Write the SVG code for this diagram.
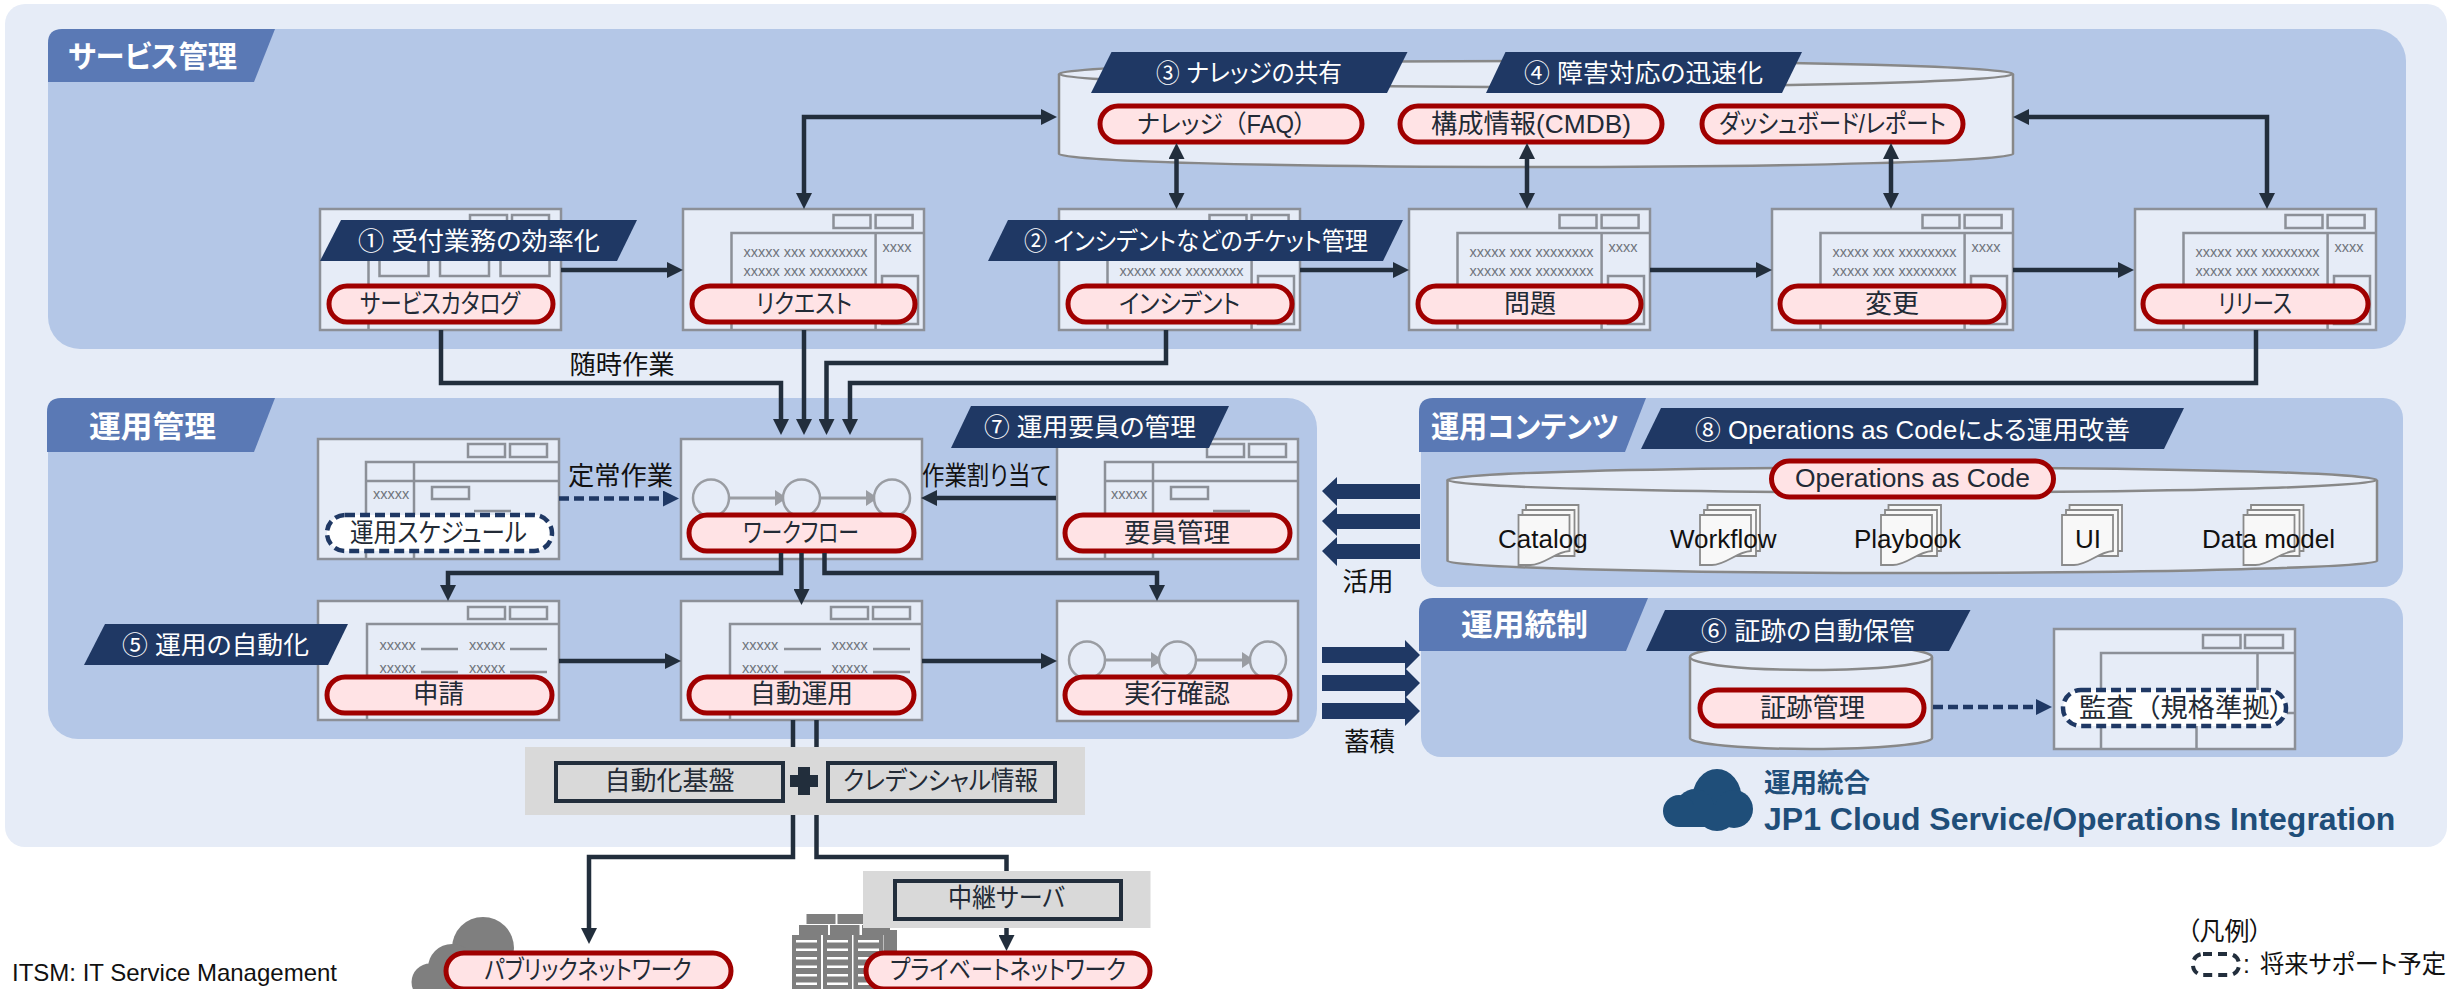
<svg xmlns="http://www.w3.org/2000/svg" width="2450" height="989" viewBox="0 0 2450 989">
<style>
text{font-family:"Liberation Sans","Noto Sans CJK JP",sans-serif;font-feature-settings:"palt"}
.fw{font-feature-settings:normal}
.bg{fill:#e6ecf7}
.panel{fill:#b4c7e7}
.tab{fill:#5a79b5}
.tabt{fill:#fff;font-size:30px;font-weight:700}
.call{fill:#1f3864}
.callt{fill:#fff;font-size:25px}
.win{fill:#e6ecf7;stroke:#8c9098;stroke-width:2.5}
.wl{fill:none;stroke:#8c9098;stroke-width:2.5}
.xs{fill:#6f747c;font-size:14.5px}
.pill{fill:#ffe3e5;stroke:#a00000;stroke-width:5}
.fut{fill:#fff;stroke:#1f3864;stroke-width:4.5;stroke-dasharray:10 5}
.pt{fill:#222a35;font-size:26px}
.pts{fill:#222a35;font-size:25px}
.cyl{fill:#e6ecf7;stroke:#888;stroke-width:2.5}
.lbl{fill:#111;font-size:26px}
.con{fill:none;stroke:#222e3c;stroke-width:4.500;marker-end:url(#a)}
.two{marker-start:url(#a)}
.line{fill:none;stroke:#222e3c;stroke-width:4.500}
.dash{fill:none;stroke:#1f3864;stroke-width:4.5;stroke-dasharray:10 5;marker-end:url(#n)}
.wide{fill:#1f3864}
.gband{fill:#d9d9d9}
.gbox{fill:#d9d9d9;stroke:#222e3c;stroke-width:4}
.circ{fill:#e6ecf7;stroke:#9a9da3;stroke-width:2.5}
.fl{fill:none;stroke:#9a9da3;stroke-width:3;marker-end:url(#g)}
.doc{fill:#f8f8f8;stroke:#8a8a8a;stroke-width:1.8}
.leg{fill:#111;font-size:24px}
.leg2{fill:#111;font-size:25px}
</style>
<defs>
<marker id="a" markerUnits="userSpaceOnUse" markerWidth="16" markerHeight="16" refX="8" refY="8" orient="auto-start-reverse"><path d="M0 0L16 8L0 16z" fill="#222e3c"/></marker>
<marker id="n" markerUnits="userSpaceOnUse" markerWidth="16" markerHeight="16" refX="8" refY="8" orient="auto"><path d="M0 0L16 8L0 16z" fill="#1f3864"/></marker>
<marker id="g" markerUnits="userSpaceOnUse" markerWidth="12" markerHeight="16" refX="6" refY="8" orient="auto"><path d="M0 0L12 8L0 16z" fill="#9a9da3"/></marker>
<g id="ticket">
<rect class="win" width="241" height="121"/>
<rect class="wl" x="150.5" y="6" width="37" height="13"/><rect class="wl" x="192.6" y="6" width="37" height="13"/>
<path class="wl" d="M48.5 121V24H241M192.6 24V121"/>
<rect class="wl" x="199" y="67" width="36" height="48"/>
</g>
<g id="table">
<rect class="win" width="241" height="120"/>
<rect class="wl" x="150" y="5" width="37" height="13"/><rect class="wl" x="192" y="5" width="37" height="13"/>
<path class="wl" d="M48 120V23H241M48 42H241M96 23V120"/>
<rect class="wl" x="114" y="48" width="37" height="12"/>
<path class="wl" d="M156 72H193"/>
</g>
<g id="form">
<rect class="win" width="241" height="119"/>
<rect class="wl" x="150" y="6" width="37" height="12"/><rect class="wl" x="192" y="6" width="37" height="12"/>
<path class="wl" d="M49 119V23H241M103 48H140M192 48H229M103 71H140M192 71H229"/>
</g>
<g id="flow">
<rect class="win" width="241" height="120"/>
<path class="fl" d="M48 59H100"/><path class="fl" d="M138 59H191"/>
<ellipse class="circ" cx="30" cy="59" rx="18" ry="18.5"/><ellipse class="circ" cx="120.500" cy="59" rx="18.500" ry="18.5"/><ellipse class="circ" cx="211" cy="59" rx="18" ry="18.5"/>
</g>
<g id="docs">
<path class="doc" d="M7.500 -10H60V36H7.500z"/>
<path class="doc" d="M4 -5H56V41H4z"/>
<path class="doc" d="M0 0H51V36C36 37 26 50 12 50H0z"/>
</g>
<path id="wl" class="wide" d="M98 7H15V0L0 14L15 29V22H98z"/>
<path id="wr" class="wide" d="M0 7H83V0L98 15L83 30V23H0z"/>
</defs>

<rect id="outer" class="bg" x="5" y="4" width="2442" height="843" rx="20"/>

<g id="panel-service"><rect class="panel" x="48" y="29" width="2358" height="320" rx="32"/><path class="tab" d="M48 82V43Q48 29 62 29H275L254 82Z"/><text class="tabt" x="68" y="67" textLength="169" lengthAdjust="spacingAndGlyphs">サービス管理</text></g>
<g id="panel-ops"><rect class="panel" x="48" y="398" width="1269" height="341" rx="30"/><path class="tab" d="M47 452V412Q47 398 61 398H275L254 452Z"/><text class="tabt" x="89" y="437" textLength="127" lengthAdjust="spacingAndGlyphs">運用管理</text></g>
<g id="panel-contents"><rect class="panel" x="1421" y="398" width="982" height="189" rx="20"/><path class="tab" d="M1419 452V412Q1419 398 1433 398H1646L1625 452Z"/><text class="tabt" x="1431" y="437" textLength="188" lengthAdjust="spacingAndGlyphs">運用コンテンツ</text></g>
<g id="panel-gov"><rect class="panel" x="1421" y="598" width="982" height="159" rx="20"/><path class="tab" d="M1419 651V612Q1419 598 1433 598H1648L1626 651Z"/><text class="tabt" x="1461" y="635" textLength="127" lengthAdjust="spacingAndGlyphs">運用統制</text></g>

<g id="node-catalog">
<rect class="win" x="320" y="209" width="241" height="121"/>
<rect class="wl" x="470" y="215" width="37" height="13"/><rect class="wl" x="512" y="215" width="37" height="13"/>
<path class="wl" d="M368.500 330V233H561"/>
<rect class="wl" x="379.500" y="248" width="49" height="28"/><rect class="wl" x="440" y="248" width="49" height="28"/><rect class="wl" x="500.500" y="248" width="49" height="28"/>
<rect class="pill" x="329" y="286" width="224" height="36" rx="18"/>
<text class="pt" x="360" y="313" textLength="160" lengthAdjust="spacingAndGlyphs">サービスカタログ</text>
</g>
<g id="node-request">
<use href="#ticket" x="683" y="209"/>
<text class="xs" x="743.500" y="257">xxxxx xxx xxxxxxxx</text><text class="xs" x="743.500" y="276">xxxxx xxx xxxxxxxx</text><text class="xs" x="882.500" y="252">xxxx</text>
<rect class="pill" x="692" y="286" width="223" height="36" rx="18"/>
<text class="pt" x="756" y="313" textLength="96" lengthAdjust="spacingAndGlyphs">リクエスト</text>
</g>
<g id="node-incident">
<use href="#ticket" x="1059" y="209"/>
<text class="xs" x="1119.500" y="276">xxxxx xxx xxxxxxxx</text>
<rect class="pill" x="1068" y="286" width="224" height="36" rx="18"/>
<text class="pt" x="1119" y="313" textLength="121" lengthAdjust="spacingAndGlyphs">インシデント</text>
</g>
<g id="node-problem">
<use href="#ticket" x="1409" y="209"/>
<text class="xs" x="1469.500" y="257">xxxxx xxx xxxxxxxx</text><text class="xs" x="1469.500" y="276">xxxxx xxx xxxxxxxx</text><text class="xs" x="1608.500" y="252">xxxx</text>
<rect class="pill" x="1418" y="286" width="223" height="36" rx="18"/>
<text class="pt" x="1504" y="313" textLength="52" lengthAdjust="spacingAndGlyphs">問題</text>
</g>
<g id="node-change">
<use href="#ticket" x="1772" y="209"/>
<text class="xs" x="1832.500" y="257">xxxxx xxx xxxxxxxx</text><text class="xs" x="1832.500" y="276">xxxxx xxx xxxxxxxx</text><text class="xs" x="1971.500" y="252">xxxx</text>
<rect class="pill" x="1780" y="286" width="224" height="36" rx="18"/>
<text class="pt" x="1865" y="313" textLength="54" lengthAdjust="spacingAndGlyphs">変更</text>
</g>
<g id="node-release">
<use href="#ticket" x="2135" y="209"/>
<text class="xs" x="2195.500" y="257">xxxxx xxx xxxxxxxx</text><text class="xs" x="2195.500" y="276">xxxxx xxx xxxxxxxx</text><text class="xs" x="2334.500" y="252">xxxx</text>
<rect class="pill" x="2143" y="286" width="225" height="36" rx="18"/>
<text class="pt" x="2218" y="313" textLength="74" lengthAdjust="spacingAndGlyphs">リリース</text>
</g>

<g id="node-knowledge-db">
<path class="cyl" d="M1059 74V154C1059 161 1272 167 1536 167S2013 161 2013 154V74"/>
<ellipse class="cyl" cx="1536" cy="74" rx="477" ry="13"/>
<rect class="pill" x="1100" y="106" width="262" height="36" rx="18"/>
<text class="pts" x="1137" y="133" textLength="169" lengthAdjust="spacingAndGlyphs">ナレッジ<tspan class="fw">（</tspan>FAQ）</text>
<rect class="pill" x="1400" y="106" width="262" height="36" rx="18"/>
<text class="pt" x="1431" y="133" textLength="200" lengthAdjust="spacingAndGlyphs">構成情報(CMDB)</text>
<rect class="pill" x="1702" y="106" width="261" height="36" rx="18"/>
<text class="pt" x="1719" y="133" textLength="227" lengthAdjust="spacingAndGlyphs">ダッシュボード/レポート</text>
</g>

<g id="node-schedule">
<use href="#table" x="318" y="439"/>
<text class="xs" x="373" y="499">xxxxx</text>
<rect class="fut" x="327" y="515" width="225" height="36" rx="18"/>
<text class="pt" x="350" y="541.500" textLength="177" lengthAdjust="spacingAndGlyphs">運用スケジュール</text>
</g>
<g id="node-workflow">
<use href="#flow" x="681" y="439"/>
<rect class="pill" x="689" y="515" width="225" height="36" rx="18"/>
<text class="pt" x="743" y="541.500" textLength="116" lengthAdjust="spacingAndGlyphs">ワークフロー</text>
</g>
<g id="node-staff">
<use href="#table" x="1057" y="439"/>
<text class="xs" x="1111" y="499">xxxxx</text>
<rect class="pill" x="1065" y="515" width="225" height="36" rx="18"/>
<text class="pt" x="1124" y="541.500" textLength="106" lengthAdjust="spacingAndGlyphs">要員管理</text>
</g>
<g id="node-apply">
<use href="#form" x="318" y="601"/>
<text class="xs" x="379.500" y="650">xxxxx</text><text class="xs" x="469" y="650">xxxxx</text><text class="xs" x="379.500" y="673">xxxxx</text><text class="xs" x="469" y="673">xxxxx</text>
<rect class="pill" x="327" y="677" width="225" height="36" rx="18"/>
<text class="pt" x="413" y="703" textLength="51" lengthAdjust="spacingAndGlyphs">申請</text>
</g>
<g id="node-auto">
<use href="#form" x="681" y="601"/>
<text class="xs" x="742" y="650">xxxxx</text><text class="xs" x="831.500" y="650">xxxxx</text><text class="xs" x="742" y="673">xxxxx</text><text class="xs" x="831.500" y="673">xxxxx</text>
<rect class="pill" x="689" y="677" width="225" height="36" rx="18"/>
<text class="pt" x="750" y="703" textLength="103" lengthAdjust="spacingAndGlyphs">自動運用</text>
</g>
<g id="node-check">
<use href="#flow" x="1057" y="601"/>
<rect class="pill" x="1065" y="677" width="225" height="36" rx="18"/>
<text class="pt" x="1124" y="703" textLength="106" lengthAdjust="spacingAndGlyphs">実行確認</text>
</g>

<g id="node-oac">
<path class="cyl" d="M1447.500 480V561C1447.500 567 1655 573 1912 573S2377 567 2377 561V480"/>
<ellipse class="cyl" cx="1912" cy="480" rx="464.500" ry="12.500"/>
<use href="#docs" x="1518.500" y="515"/><use href="#docs" x="1700" y="515"/><use href="#docs" x="1881" y="515"/><use href="#docs" x="2062" y="515"/><use href="#docs" x="2243.500" y="515"/>
<rect class="pill" x="1771.500" y="461" width="282" height="36" rx="18"/>
<text class="pt" x="1795" y="487" textLength="235" lengthAdjust="spacingAndGlyphs">Operations as Code</text>
<text class="lbl" x="1498" y="548">Catalog</text><text class="lbl" x="1670" y="548">Workflow</text><text class="lbl" x="1854" y="548">Playbook</text><text class="lbl" x="2075" y="548">UI</text><text class="lbl" x="2202" y="548">Data model</text>
</g>
<g id="node-evidence">
<path class="cyl" d="M1690 657V738C1690 744 1744 749 1811 749S1932 744 1932 738V657"/>
<ellipse class="cyl" cx="1811" cy="657" rx="121" ry="13"/>
<rect class="pill" x="1700" y="690" width="224" height="36" rx="18"/>
<text class="pt" x="1760" y="716.500" textLength="105" lengthAdjust="spacingAndGlyphs">証跡管理</text>
</g>
<g id="node-audit">
<rect class="win" x="2054" y="629" width="241" height="120"/>
<rect class="wl" x="2203" y="635" width="37.500" height="13"/><rect class="wl" x="2245" y="635" width="38" height="13"/>
<path class="wl" d="M2101 749V653H2295M2257.500 653V695M2196.500 725V749M2287 713H2295"/>
<rect class="fut" x="2063" y="690" width="223" height="36" rx="18"/>
<text class="pt" x="2079" y="716.500" textLength="204" lengthAdjust="spacingAndGlyphs">監査<tspan class="fw">（</tspan>規格準拠）</text>
</g>

<g id="connectors">
<path class="con two" d="M804 201V117H1049"/>
<path class="con" d="M561 270H675"/>
<path class="con" d="M1300 270H1401"/>
<path class="con" d="M1650 270H1764"/>
<path class="con" d="M2013 270H2126"/>
<path class="con two" d="M1176.500 151V201"/>
<path class="con two" d="M1527 151V201"/>
<path class="con two" d="M1891 151V201"/>
<path class="con two" d="M2267 201V117H2021"/>
<path class="con" d="M441 330V383H781V427"/>
<path class="con" d="M804 330V427"/>
<path class="con" d="M1166 330V363H826.500V427"/>
<path class="con" d="M2256 330V383H850V427"/>
<path class="dash" d="M559 498.500H671"/>
<path class="con" d="M1056 498H929"/>
<path class="con" d="M781 553V573H448V593"/>
<path class="con" d="M801.500 553V597"/>
<path class="con" d="M824.500 553V573H1157V593"/>
<path class="con" d="M559 661H673"/>
<path class="con" d="M922 661H1049"/>
<path class="line" d="M793 720V747M816.500 720V747"/>
<path class="con" d="M793 815V857H589V936"/>
<path class="line" d="M816.500 815V857H1006.500V871"/>
<path class="con" d="M1006.500 928V943"/>
<path class="dash" d="M1933 707H2044"/>
<use href="#wl" x="1322" y="477"/><use href="#wl" x="1322" y="507"/><use href="#wl" x="1322" y="537"/>
<use href="#wr" x="1322" y="640"/><use href="#wr" x="1322" y="668"/><use href="#wr" x="1322" y="696"/>
</g>

<g id="callouts">
<path class="call" d="M341 220H637L617 261H320Z"/><text class="callt" x="358" y="250" textLength="242" lengthAdjust="spacingAndGlyphs">① 受付業務の効率化</text>
<path class="call" d="M1008 220H1403L1383 261H988Z"/><text class="callt" x="1024" y="250" textLength="344" lengthAdjust="spacingAndGlyphs">② インシデントなどのチケット管理</text>
<path class="call" d="M1111.500 52H1407.500L1387 93H1091Z"/><text class="callt" x="1156" y="82" textLength="186" lengthAdjust="spacingAndGlyphs">③ ナレッジの共有</text>
<path class="call" d="M1505.500 52H1802L1782 93H1486Z"/><text class="callt" x="1524" y="82" textLength="239" lengthAdjust="spacingAndGlyphs">④ 障害対応の迅速化</text>
<path class="call" d="M105 624H348L328 665H84Z"/><text class="callt" x="122" y="654" textLength="187" lengthAdjust="spacingAndGlyphs">⑤ 運用の自動化</text>
<path class="call" d="M971 406H1229L1209 448H951Z"/><text class="callt" x="984" y="436" textLength="212" lengthAdjust="spacingAndGlyphs">⑦ 運用要員の管理</text>
<path class="call" d="M1661 408H2184L2164 449H1641Z"/><text class="callt" x="1695" y="439" textLength="435" lengthAdjust="spacingAndGlyphs">⑧ Operations as Codeによる運用改善</text>
<path class="call" d="M1665 610H1970.500L1949 651H1646Z"/><text class="callt" x="1701" y="640" textLength="214" lengthAdjust="spacingAndGlyphs">⑥ 証跡の自動保管</text>
</g>

<g id="labels">
<text class="lbl" x="569.500" y="374" textLength="105" lengthAdjust="spacingAndGlyphs">随時作業</text>
<text class="lbl" x="568" y="485" textLength="105" lengthAdjust="spacingAndGlyphs">定常作業</text>
<text class="lbl" x="922" y="485" textLength="129" lengthAdjust="spacingAndGlyphs">作業割り当て</text>
<text class="lbl" x="1342.500" y="591" textLength="51" lengthAdjust="spacingAndGlyphs">活用</text>
<text class="lbl" x="1344" y="751" textLength="51" lengthAdjust="spacingAndGlyphs">蓄積</text>
</g>

<g id="logo" fill="#1f4e79">
<ellipse cx="1717" cy="800" rx="25" ry="31"/><circle cx="1695" cy="808" r="19"/><circle cx="1679" cy="811" r="16"/><circle cx="1734" cy="809" r="19"/><rect x="1679" y="805" width="55" height="22"/>
<text x="1764" y="792" font-size="26" font-weight="700" textLength="106" lengthAdjust="spacingAndGlyphs">運用統合</text>
<text x="1764" y="830" font-size="32" font-weight="700">JP1 Cloud Service/Operations Integration</text>
</g>

<g id="node-base">
<rect class="gband" x="525" y="747" width="560" height="68"/>
<rect class="gbox" x="556" y="763" width="227" height="38"/>
<text class="pt" x="604.500" y="790" textLength="130" lengthAdjust="spacingAndGlyphs">自動化基盤</text>
<path fill="#222e3c" d="M798 767H810V775H818V787H810V795H798V787H790V775H798Z"/>
<rect class="gbox" x="828" y="763" width="227" height="38"/>
<text class="pt" x="843" y="790" textLength="195" lengthAdjust="spacingAndGlyphs">クレデンシャル情報</text>
</g>

<g id="node-public">
<g fill="#7f7f7f"><circle cx="483" cy="948" r="31"/><circle cx="452" cy="968" r="24"/><circle cx="430" cy="982" r="18.500"/><rect x="430" y="960" width="85" height="29"/></g>
<rect class="pill" x="446" y="953" width="285" height="36" rx="18"/>
<text class="pt" x="484.500" y="979" textLength="207" lengthAdjust="spacingAndGlyphs">パブリックネットワーク</text>
</g>
<g id="node-private">
<g fill="#7f7f7f">
<rect x="806.500" y="914" width="29" height="10"/><rect x="837.500" y="914" width="28" height="10"/>
<rect x="799" y="925" width="29" height="10"/><rect x="830" y="925" width="29.500" height="10"/><rect x="862" y="925" width="28" height="10"/>
<rect x="884" y="930" width="13" height="59"/>
<rect x="792" y="935" width="29" height="54"/><rect x="823" y="935" width="29" height="54"/><rect x="853.500" y="935" width="30" height="54"/>
</g>
<path d="M806.500 940V989M837.500 940V989M868.500 940V989" fill="none" stroke="#fff" stroke-width="21" stroke-dasharray="2.500 6"/>
<rect class="gband" x="863" y="871" width="287.500" height="57"/>
<rect class="gbox" x="895" y="881" width="226" height="38"/>
<text class="pt" x="948" y="907" textLength="117" lengthAdjust="spacingAndGlyphs">中継サーバ</text>
<rect class="pill" x="866" y="953" width="284" height="36" rx="18"/>
<text class="pt" x="890" y="979" textLength="236" lengthAdjust="spacingAndGlyphs">プライベートネットワーク</text>
</g>

<g id="notes">
<text class="leg" x="12" y="981">ITSM: IT Service Management</text>
<text class="leg2" x="2187" y="940">（凡例）</text>
<rect x="2193" y="954" width="46" height="21" rx="10" fill="none" stroke="#222e3c" stroke-width="4" stroke-dasharray="9 6"/>
<text class="leg2" x="2243" y="973">:</text>
<text class="leg2" x="2260" y="973" textLength="186" lengthAdjust="spacingAndGlyphs">将来サポート予定</text>
</g>
</svg>
